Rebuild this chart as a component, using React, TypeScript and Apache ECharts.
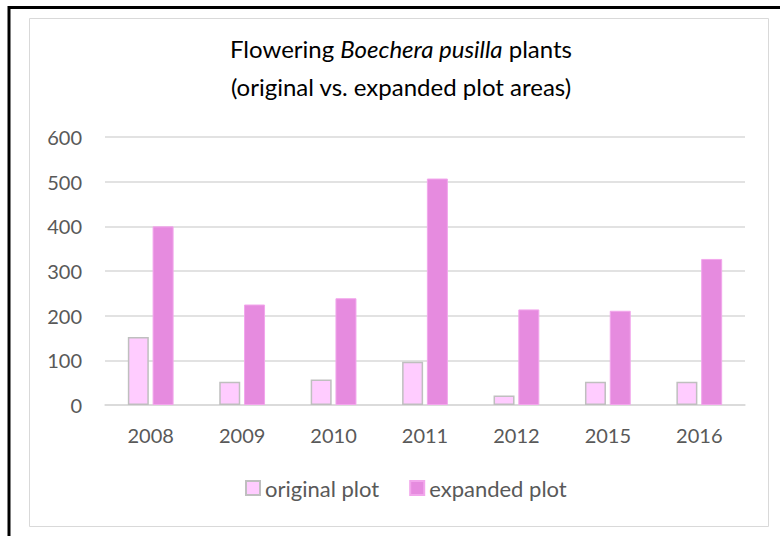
import React, { useEffect, useRef } from "react";
import * as echarts from "echarts";

const years = ["2008", "2009", "2010", "2011", "2012", "2015", "2016"];
const originalPlot = [152, 52, 57, 97, 21, 52, 52];
const expandedPlot = [400, 225, 239, 507, 214, 211, 327];
const yTicks = { min: 0, max: 600, interval: 100 };

const FONT = "Lato, 'Open Sans', sans-serif";
const TEXT = "#595959";

export default function App() {
  const ref = useRef<HTMLDivElement>(null);
  useEffect(() => {
    if (!ref.current) return;
    const chart = echarts.init(ref.current, null, { renderer: "svg" });
    chart.setOption({
      animation: false,
      backgroundColor: "#ffffff",
      textStyle: { fontFamily: FONT },
      title: {
        text: "Flowering {i|Boechera pusilla} plants\n(original vs. expanded plot areas)",
        left: 396,
        textAlign: "center",
        top: 24,
        textStyle: {
          fontFamily: FONT,
          fontSize: 24,
          fontWeight: "normal",
          color: "#000000",
          lineHeight: 38,
          rich: {
            i: { fontFamily: FONT, fontSize: 24, fontStyle: "italic", color: "#000000", lineHeight: 38 },
          },
        },
      },
      graphic: [
        {
          type: "rect",
          shape: { x: 9, y: 7.5, width: 800, height: 600 },
          style: { fill: "none", stroke: "#000000", lineWidth: 3 },
          silent: true,
        },
        {
          type: "rect",
          shape: { x: 29.5, y: 18.5, width: 739, height: 508 },
          style: { fill: "none", stroke: "#D9D9D9", lineWidth: 1 },
          silent: true,
        },
      ],
      legend: {
        data: ["original plot", "expanded plot"],
        bottom: 32,
        left: 240,
        itemWidth: 14,
        itemHeight: 14,
        itemGap: 30,
        icon: "rect",
        textStyle: { fontFamily: FONT, fontSize: 22, color: TEXT },
      },
      grid: { left: 105, right: 35, top: 137, bottom: 131 },
      xAxis: {
        type: "category",
        data: years,
        axisLine: { show: true, lineStyle: { color: "#D9D9D9", width: 1.5 } },
        axisTick: { show: false },
        axisLabel: { color: TEXT, fontSize: 20, fontFamily: FONT, margin: 20 },
      },
      yAxis: {
        type: "value",
        min: yTicks.min,
        max: yTicks.max,
        interval: yTicks.interval,
        axisLine: { show: false },
        axisTick: { show: false },
        splitLine: { lineStyle: { color: "#D9D9D9", width: 1.5 } },
        axisLabel: { color: TEXT, fontSize: 20, fontFamily: FONT, margin: 23 },
      },
      series: [
        {
          name: "original plot",
          type: "bar",
          data: originalPlot,
          barWidth: 21,
          barGap: "18%",
          itemStyle: { color: "#FFCCFF", borderColor: "#BFBFBF", borderWidth: 1.5 },
        },
        {
          name: "expanded plot",
          type: "bar",
          data: expandedPlot,
          barWidth: 21,
          itemStyle: { color: "#E68BDF", borderColor: "#F2A6EC", borderWidth: 1 },
        },
      ],
    });
    return () => chart.dispose();
  }, []);
  return (
    <div
      ref={ref}
      style={{ position: "fixed", left: 0, top: 0, width: 780, height: 536 }}
    />
  );
}
